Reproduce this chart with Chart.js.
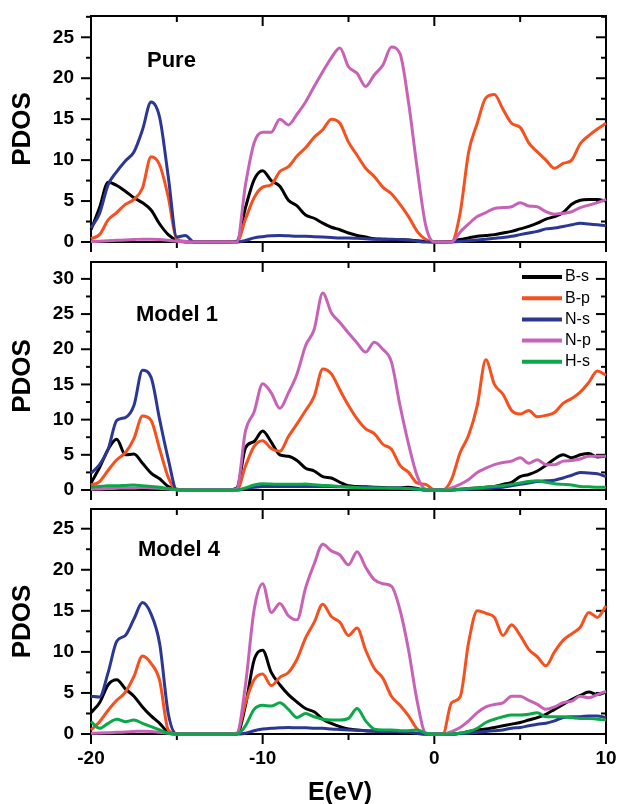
<!DOCTYPE html>
<html>
<head>
    <title>PDOS panels</title>
    <style>
        body { margin: 0; background: #fff; }
        .panels { position: relative; width: 620px; height: 804px; }
        .panels canvas { position: absolute; left: 0; }
    </style>
</head>
<body>
    <div class="panels">
        <canvas id="pure" width="620" height="252" style="top:0px"></canvas>
        <canvas id="model1" width="620" height="254" style="top:246px"></canvas>
        <canvas id="model4" width="620" height="311" style="top:493px"></canvas>
    </div>

    <script src="https://cdn.jsdelivr.net/npm/chart.js@4.4.1/dist/chart.umd.min.js"></script>

    <script>
        // energy grid (eV), shared by all three panels
        const energy = [-20, -19.5, -19, -18.5, -18, -17.5, -17, -16.5, -16, -15.5, -15, -14.5, -14, -13.5, -13, -12.5,
            -12, -11.5, -11, -10.5, -10, -9.5, -9, -8.5, -8, -7.5, -7, -6.5, -6, -5.5, -5, -4.5, -4, -3.5, -3, -2.5,
            -2, -1.5, -1, -0.5, 0, 0.5, 1, 1.5, 2, 2.5, 3, 3.5, 4, 4.5, 5, 5.5, 6, 6.5, 7, 7.5, 8, 8.5, 9, 9.5, 10];

        const seriesNames = ['B-s', 'B-p', 'N-s', 'N-p', 'H-s'];
        const seriesColors = ['#000000', '#f5501e', '#2b3795', '#c862b6', '#0ba84a'];

        const xMajorTicks = [-20, -10, 0, 10];
        const xMinorTicks = [-15, -5, 5];
        const yTicksPure = [0, 5, 10, 15, 20, 25];
        const yTicksModel1 = [0, 5, 10, 15, 20, 25, 30];
        const yTicksModel4 = [0, 5, 10, 15, 20, 25];

        // Pure
        const pureBs = [1.5, 4.2, 7.3, 6.9, 6.2, 5.4, 4.8, 3.9, 2.2, 0.9, 0.2, 0, 0, 0, 0, 0, 0, 0.1, 4.2, 7.6, 8.7,
            7.5, 6.8, 5.1, 4.4, 3.3, 2.9, 2.3, 1.8, 1.5, 1.1, 0.8, 0.6, 0.4, 0.35, 0.3, 0.3, 0.25, 0.15, 0.05, 0, 0,
            0.05, 0.3, 0.5, 0.7, 0.8, 0.9, 1.1, 1.3, 1.6, 1.9, 2.3, 2.8, 3.1, 3.6, 4.6, 5.1, 5.2, 5.2, 5.0];
        const pureBp = [0.4, 0.9, 2.7, 3.6, 4.6, 5.2, 6.6, 10.4, 9.4, 5.5, 0.3, 0.1, 0, 0, 0, 0, 0, 0, 2.8, 5.4, 6.7,
            7.0, 8.6, 9.2, 10.5, 11.5, 12.8, 13.7, 15.0, 14.5, 12.2, 10.6, 9.0, 8.0, 6.7, 5.9, 4.6, 3.1, 1.3, 0.3, 0,
            0, 0, 3.5, 11.0, 14.5, 17.6, 18.0, 16.2, 14.5, 14.0, 12.1, 11.0, 10.0, 9.0, 9.6, 10.0, 12.0, 13.0, 13.8, 14.5];
        const pureNs = [1.7, 3.5, 7.0, 8.6, 9.9, 11.0, 13.7, 17.1, 15.2, 8.0, 0.6, 0.8, 0, 0, 0, 0, 0, 0, 0.2, 0.5,
            0.65, 0.75, 0.8, 0.75, 0.7, 0.7, 0.65, 0.6, 0.55, 0.5, 0.5, 0.45, 0.4, 0.35, 0.35, 0.35, 0.3, 0.25, 0.1,
            0, 0, 0, 0, 0.05, 0.15, 0.25, 0.35, 0.45, 0.55, 0.7, 0.9, 1.1, 1.3, 1.6, 1.7, 1.9, 2.1, 2.3, 2.2, 2.1, 2.0];
        const pureNp = [0.05, 0.1, 0.15, 0.2, 0.25, 0.3, 0.35, 0.35, 0.3, 0.2, 0.1, 0.05, 0, 0, 0, 0, 0, 0, 7.0, 12.1,
            13.4, 13.4, 15.0, 14.3, 15.6, 17.1, 19.0, 20.8, 22.5, 23.7, 21.4, 20.6, 19.0, 20.4, 21.6, 23.8, 23.0, 17.0,
            9.0, 2.0, 0, 0, 0, 1.2, 2.2, 3.1, 3.6, 4.1, 4.2, 4.3, 4.8, 4.4, 4.3, 3.7, 3.4, 3.5, 3.7, 4.2, 4.5, 4.8, 5.2];

        // Model 1
        const m1Bs = [1.0, 3.2, 5.8, 7.2, 5.0, 5.1, 3.8, 2.4, 1.6, 0.5, 0.1, 0, 0, 0, 0, 0, 0, 0.3, 6.0, 6.9, 8.4,
            6.8, 5.0, 4.8, 4.2, 3.1, 2.7, 1.9, 1.7, 1.1, 0.6, 0.5, 0.45, 0.4, 0.35, 0.3, 0.3, 0.4, 0.2, 0, 0, 0, 0,
            0.1, 0.2, 0.3, 0.4, 0.5, 0.8, 1.1, 1.9, 2.2, 2.7, 3.5, 4.4, 5.0, 4.6, 5.0, 5.2, 4.7, 4.8];
        const m1Bp = [0.7, 1.2, 2.8, 4.3, 5.3, 7.3, 10.5, 9.9, 5.8, 1.8, 0, 0, 0, 0, 0, 0, 0, 0, 3.4, 6.2, 7.0, 5.9,
            5.5, 7.6, 9.4, 11.3, 13.3, 17.2, 16.5, 14.2, 12.0, 10.1, 8.7, 8.0, 6.5, 5.8, 3.5, 2.5, 1.0, 0.8, 0, 0,
            1.5, 5.3, 7.8, 12.0, 18.5, 15.0, 13.6, 11.3, 10.8, 11.3, 10.4, 10.6, 11.0, 12.3, 13.0, 13.9, 15.3, 16.9, 16.3];
        const m1Ns = [2.4, 3.6, 5.8, 9.9, 10.3, 12.0, 17.0, 16.0, 10.0, 4.4, 0, 0, 0, 0, 0, 0, 0, 0, 0.2, 0.4, 0.5,
            0.5, 0.5, 0.5, 0.5, 0.5, 0.5, 0.5, 0.5, 0.45, 0.45, 0.4, 0.4, 0.35, 0.3, 0.3, 0.3, 0.2, 0.1, 0, 0, 0, 0,
            0.05, 0.1, 0.15, 0.2, 0.3, 0.4, 0.6, 0.8, 1.0, 1.2, 1.3, 1.4, 1.7, 2.1, 2.5, 2.4, 2.3, 1.9];
        const m1Np = [0.1, 0.15, 0.2, 0.25, 0.3, 0.3, 0.35, 0.3, 0.25, 0.15, 0.05, 0, 0, 0, 0, 0, 0, 0.2, 8.4, 11.1,
            15.1, 13.8, 11.6, 13.8, 16.5, 20.5, 22.8, 28.0, 25.2, 23.8, 22.3, 20.9, 19.6, 21.0, 20.0, 18.2, 12.0, 6.5,
            2.0, 0.1, 0, 0, 0.3, 0.8, 1.5, 2.5, 3.1, 3.6, 3.9, 4.1, 4.6, 3.8, 4.3, 3.6, 3.6, 4.1, 4.2, 4.4, 4.8, 4.8, 4.8];
        const m1Hs = [0.4, 0.5, 0.6, 0.6, 0.65, 0.7, 0.6, 0.5, 0.4, 0.2, 0.05, 0, 0, 0, 0, 0, 0, 0, 0.3, 0.7, 0.9,
            0.85, 0.8, 0.8, 0.8, 0.85, 0.75, 0.65, 0.6, 0.5, 0.4, 0.35, 0.3, 0.3, 0.3, 0.25, 0.25, 0.2, 0.15, 0.05,
            0, 0, 0, 0.1, 0.2, 0.3, 0.4, 0.5, 0.6, 0.8, 1.0, 1.2, 1.3, 1.1, 0.9, 0.8, 0.7, 0.5, 0.45, 0.4, 0.4];

        // Model 4
        const m4Bs = [2.6, 3.8, 6.0, 6.6, 5.5, 4.6, 3.3, 2.2, 1.3, 0.2, 0, 0, 0, 0, 0, 0, 0, 0, 3.5, 9.0, 10.2, 7.5,
            6.0, 4.8, 3.9, 3.1, 2.7, 1.8, 1.3, 0.9, 0.6, 0.5, 0.4, 0.35, 0.3, 0.2, 0.15, 0.1, 0.05, 0, 0, 0, 0, 0.1,
            0.3, 0.5, 0.6, 0.8, 1.0, 1.2, 1.4, 1.7, 2.0, 2.4, 3.0, 3.6, 4.2, 4.7, 5.1, 4.8, 5.1];
        const m4Bp = [0.5, 1.5, 2.9, 4.1, 5.1, 7.0, 9.5, 8.6, 6.5, 0.5, 0, 0, 0, 0, 0, 0, 0, 0.1, 3.8, 6.6, 7.3, 5.9,
            6.9, 7.5, 9.1, 11.7, 13.6, 15.8, 14.3, 13.6, 12.0, 12.9, 10.2, 8.0, 6.8, 4.6, 3.5, 2.2, 0.6, 0, 0, 0, 3.8,
            4.5, 11.2, 15.0, 14.7, 14.2, 12.0, 13.3, 12.0, 10.3, 9.4, 8.3, 10.0, 11.4, 12.2, 13.0, 14.8, 14.2, 15.6];
        const m4Ns = [4.6, 4.5, 7.5, 11.3, 12.0, 14.0, 16.0, 14.6, 11.0, 2.5, 0, 0, 0, 0, 0, 0, 0, 0, 0.1, 0.4, 0.6,
            0.7, 0.75, 0.8, 0.75, 0.75, 0.7, 0.7, 0.6, 0.55, 0.5, 0.45, 0.4, 0.35, 0.3, 0.3, 0.25, 0.2, 0.1, 0, 0, 0,
            0, 0.05, 0.1, 0.2, 0.3, 0.4, 0.5, 0.7, 0.8, 1.0, 1.2, 1.3, 1.6, 2.0, 2.1, 2.1, 2.2, 2.2, 2.0];
        const m4Np = [0.1, 0.12, 0.15, 0.2, 0.25, 0.3, 0.35, 0.3, 0.2, 0.1, 0, 0, 0, 0, 0, 0, 0, 0.1, 6.0, 15.1, 18.3,
            14.8, 15.9, 14.4, 13.9, 17.8, 20.7, 23.1, 22.3, 21.8, 20.6, 22.2, 20.3, 18.8, 18.3, 18.0, 15.1, 10.2, 4.0,
            0.1, 0, 0, 0.3, 0.8, 1.6, 2.6, 3.3, 3.6, 3.8, 4.6, 4.6, 4.1, 3.6, 3.0, 3.3, 3.8, 4.0, 4.6, 4.4, 4.8, 5.2];
        const m4Hs = [1.5, 0.7, 1.3, 1.8, 1.5, 1.7, 1.3, 0.9, 0.5, 0.1, 0, 0, 0, 0, 0, 0, 0, 0, 1.0, 3.0, 3.5, 3.4,
            3.8, 3.0, 2.0, 2.5, 2.1, 1.8, 1.7, 1.7, 1.9, 3.1, 1.6, 0.6, 0.5, 0.5, 0.4, 0.4, 0.5, 0.1, 0, 0, 0, 0.1,
            0.3, 0.7, 1.4, 1.8, 2.1, 2.3, 2.3, 2.4, 2.6, 2.1, 2.1, 2.1, 2.0, 1.9, 1.9, 1.8, 1.7];

        const fontFamily = '"Liberation Sans", Arial, Helvetica, sans-serif';
        Chart.defaults.font.family = fontFamily;
        Chart.defaults.color = '#000';

        // box round the plot + Origin style ticks (out on left/bottom, in on top/right)
        const frameTicks = {
            id: 'frameTicks',
            beforeDatasetsDraw(chart, args, opts) {
                const {ctx, chartArea: a, scales: {x, y}} = chart;
                const seg = (x1, y1, x2, y2) => { ctx.beginPath(); ctx.moveTo(x1, y1); ctx.lineTo(x2, y2); ctx.stroke(); };
                ctx.save();
                ctx.strokeStyle = '#000';
                ctx.lineWidth = 2;
                ctx.strokeRect(a.left, a.top, a.right - a.left, a.bottom - a.top);
                xMajorTicks.concat(xMinorTicks).forEach(v => {
                    const px = x.getPixelForValue(v);
                    const len = xMajorTicks.includes(v) ? 10 : 6;
                    seg(px, a.bottom, px, a.bottom + len);
                    seg(px, a.top, px, a.top + len);
                });
                const major = opts.yTicks;
                const minor = major.map(v => v + 2.5).filter(v => v < y.max);
                major.concat(minor).forEach(v => {
                    const py = y.getPixelForValue(v);
                    const len = major.includes(v) ? 10 : 5;
                    seg(a.left - len, py, a.left, py);
                    seg(a.right - len, py, a.right, py);
                });
                ctx.restore();
            }
        };

        // free text: panel names and the x title
        const panelText = {
            id: 'panelText',
            afterDraw(chart, args, opts) {
                const ctx = chart.ctx;
                ctx.save();
                ctx.fillStyle = '#000';
                ctx.textBaseline = 'alphabetic';
                opts.items.forEach(t => {
                    ctx.font = t.font;
                    ctx.textAlign = t.align || 'left';
                    ctx.fillText(t.text, t.x, t.y);
                });
                ctx.restore();
            }
        };

        // legend drawn inside the plot, top right
        const innerLegend = {
            id: 'innerLegend',
            afterDatasetsDraw(chart, args, opts) {
                if (!opts.show) return;
                const ctx = chart.ctx;
                ctx.save();
                ctx.font = '16px ' + fontFamily;
                ctx.textBaseline = 'middle';
                ctx.fillStyle = '#000';
                ctx.lineWidth = 4;
                chart.data.datasets.forEach((ds, i) => {
                    const yy = opts.top + i * opts.gap;
                    ctx.strokeStyle = ds.borderColor;
                    ctx.beginPath();
                    ctx.moveTo(opts.left, yy);
                    ctx.lineTo(opts.left + 40, yy);
                    ctx.stroke();
                    ctx.fillText(ds.label, opts.left + 43, yy);
                });
                ctx.restore();
            }
        };

        function makePanel(id, cfg) {
            const datasets = cfg.series.map((vals, i) => ({
                label: seriesNames[i],
                data: vals.map((v, k) => ({x: energy[k], y: v})),
                borderColor: seriesColors[i],
                borderWidth: 3,
                pointRadius: 0,
                cubicInterpolationMode: 'monotone',
                borderJoinStyle: 'round',
                order: 10 - i,
                clip: false
            }));
            return new Chart(document.getElementById(id), {
                type: 'line',
                data: {datasets: datasets},
                options: {
                    responsive: false,
                    animation: false,
                    layout: {padding: {left: 0, right: 14, top: 16, bottom: cfg.bottomAxis ? 0 : 10}},
                    scales: {
                        x: {
                            type: 'linear',
                            min: -20,
                            max: 10,
                            display: cfg.bottomAxis,
                            grid: {display: false, drawTicks: false},
                            border: {display: false},
                            ticks: {color: '#000', font: {size: 19, weight: 'bold'}, padding: 13, maxRotation: 0},
                            afterBuildTicks: s => { s.ticks = xMajorTicks.map(v => ({value: v})); },
                            afterFit: s => {
                                s.paddingLeft = 0;
                                s.paddingRight = 0;
                                if (cfg.bottomAxis) s.height = 70;
                            }
                        },
                        y: {
                            type: 'linear',
                            min: 0,
                            max: cfg.yMax,
                            grid: {display: false, drawTicks: false},
                            border: {display: false},
                            ticks: {color: '#000', font: {size: 19, weight: 'bold'}, padding: 17},
                            afterBuildTicks: s => { s.ticks = cfg.yTicks.map(v => ({value: v})); },
                            afterFit: s => {
                                s.width = 91;
                                s.paddingTop = 0;
                                s.paddingBottom = 0;
                            },
                            title: {
                                display: true,
                                text: 'PDOS',
                                color: '#000',
                                font: {size: 26, weight: 'bold'},
                                padding: {top: 7, bottom: 0}
                            }
                        }
                    },
                    plugins: {
                        legend: {display: false},
                        tooltip: {enabled: false},
                        frameTicks: {yTicks: cfg.yTicks},
                        panelText: {items: cfg.texts},
                        innerLegend: {show: cfg.legend, left: 522, top: 31, gap: 21.2}
                    }
                },
                plugins: [frameTicks, innerLegend, panelText]
            });
        }

        const labelFont = 'bold 22px ' + fontFamily;

        makePanel('pure', {
            series: [pureBs, pureBp, pureNs, pureNp],
            yMax: 27.6,
            yTicks: yTicksPure,
            bottomAxis: false,
            legend: false,
            texts: [{text: 'Pure', x: 147, y: 67, font: labelFont}]
        });

        makePanel('model1', {
            series: [m1Bs, m1Bp, m1Ns, m1Np, m1Hs],
            yMax: 32.4,
            yTicks: yTicksModel1,
            bottomAxis: false,
            legend: true,
            texts: [{text: 'Model 1', x: 136, y: 75, font: labelFont}]
        });

        makePanel('model4', {
            series: [m4Bs, m4Bp, m4Ns, m4Np, m4Hs],
            yMax: 27.4,
            yTicks: yTicksModel4,
            bottomAxis: true,
            legend: false,
            texts: [
                {text: 'Model 4', x: 138, y: 63, font: labelFont},
                {text: 'E(eV)', x: 340, y: 307, font: 'bold 25px ' + fontFamily, align: 'center'}
            ]
        });
    </script>
</body>
</html>
